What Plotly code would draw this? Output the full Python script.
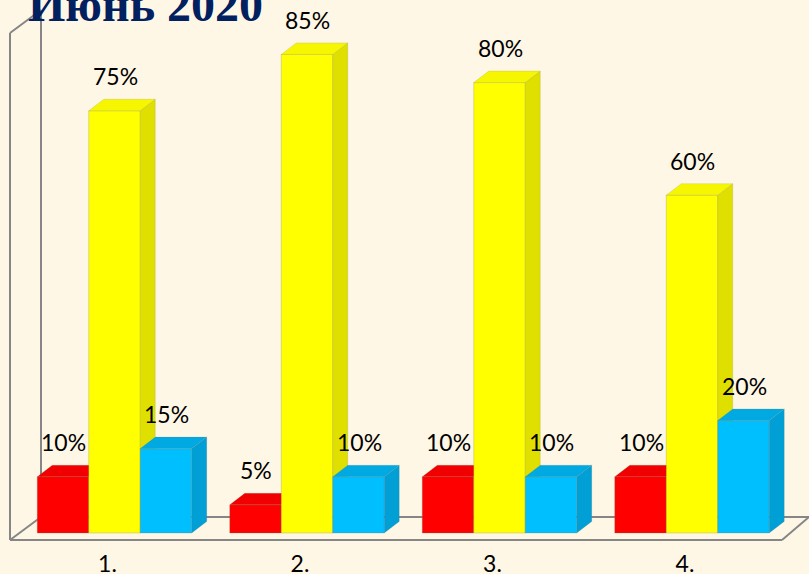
import plotly.graph_objects as go

categories = ["1.", "2.", "3.", "4."]
red_values = [10, 5, 10, 10]
yellow_values = [75, 85, 80, 60]
blue_values = [15, 10, 10, 20]
title_text = "Июнь 2020"

W, H = 809, 574
PITCH = 192.5          # px per category
FIRST = 114.5          # px of first group centre
PX_PER_PCT = 5.63
ZERO_PX = 533
AXIS_PX = 548
BW = 51.5 / PITCH
DX = 15.0 / PITCH
DY = 11.5 / PX_PER_PCT
xr = [-FIRST / PITCH, (W - FIRST) / PITCH]
yr = [-(AXIS_PX - ZERO_PX) / PX_PER_PCT, ZERO_PX / PX_PER_PCT]
BG = "#FFF7E6"
EDGE = "rgba(120,120,100,0.35)"

series = [
    ("", -BW, red_values, "#FF0000", "#F00000", "#E00000"),
    ("2", 0.0, yellow_values, "#FFFF00", "#F6F600", "#E0E000"),
    ("3", BW, blue_values, "#00BFFF", "#00A9E2", "#009FD6"),
]

fig = go.Figure()
for ax, off, vals, front, top, side in series:
    xa, ya = "x" + ax, "y" + ax
    tx, ty, sx, sy = [], [], [], []
    for i, v in enumerate(vals):
        l, r = i + off - BW / 2, i + off + BW / 2
        tx += [l, r, r + DX, l + DX, l, None]
        ty += [v, v, v + DY, v + DY, v, None]
        sx += [r, r + DX, r + DX, r, r, None]
        sy += [0, DY, v + DY, v, 0, None]
    for px, py, col in ((sx, sy, side), (tx, ty, top)):
        fig.add_trace(go.Scatter(x=px, y=py, xaxis=xa, yaxis=ya, mode="lines", fill="toself",
                                 fillcolor=col, line=dict(color=EDGE, width=0.5),
                                 hoverinfo="skip", showlegend=False))
    fig.add_trace(go.Bar(x=[i + off for i in range(len(vals))], y=vals, width=BW, xaxis=xa, yaxis=ya,
                         marker=dict(color=front, line=dict(color=EDGE, width=0.75)),
                         showlegend=False))

annotations = []
for _, off, vals, *_rest in series:
    for i, v in enumerate(vals):
        annotations.append(dict(x=i + off, y=v, xref="x", yref="y", text=f"{v}%", showarrow=False,
                                yanchor="middle", yshift=34.5, xshift=0.5,
                                font=dict(family="Lato", size=23, color="#000000")))
annotations.append(dict(x=28 / W, xref="paper", xanchor="left", y=1, yref="paper", yanchor="bottom",
                        yshift=-33, xshift=-2, text=f"<b>{title_text}</b>", showarrow=False,
                        font=dict(family="Liberation Serif", size=48, color="#002060")))

GRID = dict(color="#868686", width=2)
def px_x(p): return (p - FIRST) / PITCH
def px_y(p): return (ZERO_PX - p) / PX_PER_PCT
wall = [((10, 33), (10, 540)), ((10, 540), (782, 540)), ((10, 540), (41, 517)),
        ((41, 517), (809, 517)), ((782, 540), (809, 517)), ((41, 517), (41, 10)), ((10, 33), (41, 10))]
shapes = [dict(type="line", layer="below", xref="x", yref="y", x0=px_x(a[0]), y0=px_y(a[1]),
               x1=px_x(b[0]), y1=px_y(b[1]), line=GRID) for a, b in wall]

hidden = dict(visible=False, fixedrange=True)
fig.update_layout(
    width=W, height=H, autosize=False, paper_bgcolor=BG, plot_bgcolor=BG,
    margin=dict(l=0, r=0, t=0, b=H - AXIS_PX, autoexpand=False), barmode="overlay", showlegend=False,
    annotations=annotations, shapes=shapes,
    xaxis=dict(range=xr, tickmode="array", tickvals=[i - 7 / PITCH for i in range(len(categories))],
               ticktext=categories, showgrid=False, zeroline=False, showline=False, ticks="", ticklen=0,
               automargin=False, tickfont=dict(family="Lato", size=23, color="#000000"), fixedrange=True),
    yaxis=dict(range=yr, **hidden),
    xaxis2=dict(range=xr, overlaying="x", **hidden),
    yaxis2=dict(range=yr, overlaying="y", **hidden),
    xaxis3=dict(range=xr, overlaying="x", **hidden),
    yaxis3=dict(range=yr, overlaying="y", **hidden),
)
fig.write_html("out.html", config=dict(displayModeBar=False),
               post_script="document.body.style.margin='0';document.body.style.background='%s';document.body.style.overflow='hidden';" % BG)
